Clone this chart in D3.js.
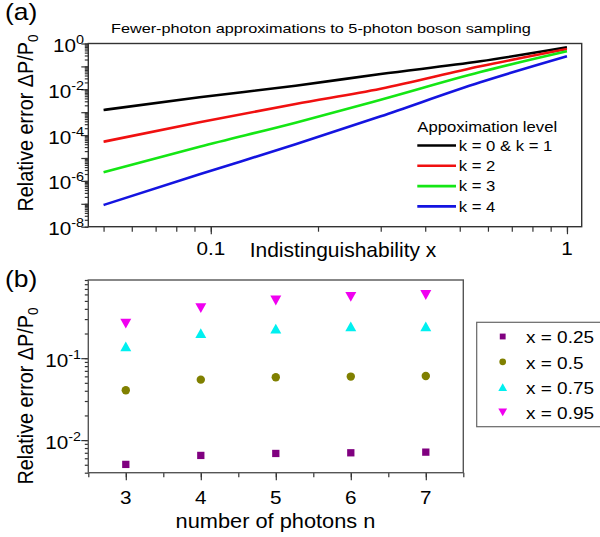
<!DOCTYPE html>
<html>
<head>
<meta charset="utf-8">
<script src="https://cdn.jsdelivr.net/npm/d3@7"></script>
<style>
body{margin:0;background:#fff}
svg{display:block;font-family:"Liberation Sans",Arial,sans-serif}
</style>
</head>
<body>
<svg id="chart"></svg>
<script>
// panel (a): relative error against indistinguishability x, one curve per level
var curveX = [0.05, 0.093, 0.173, 0.3, 0.571, 1];
var errK01 = [1.25e-3, 4.47e-3, 0.0144, 0.0466, 0.167, 0.682];
var errK2  = [5.15e-5, 3.62e-4, 2.28e-3, 0.0106, 0.101, 0.575];
var errK3  = [2.38e-6, 3.11e-5, 3.48e-4, 3.51e-3, 0.0569, 0.456];
var errK4  = [8.87e-8, 1.94e-6, 3.96e-5, 6.62e-4, 0.0202, 0.276];
var levelNames = ["k = 0 & k = 1", "k = 2", "k = 3", "k = 4"];
var levelColors = ["#000000", "#f01010", "#14e614", "#1414e0"];
var aYTicks = [1, 1e-2, 1e-4, 1e-6, 1e-8];
var aXTicks = [0.1, 1];

// panel (b): relative error against number of photons n
var photons = [3, 4, 5, 6, 7];
var err025 = [0.00505, 0.0065, 0.00687, 0.0070, 0.00713];
var err05  = [0.0406, 0.0547, 0.0585, 0.0596, 0.0607];
var err075 = [0.139, 0.202, 0.229, 0.244, 0.244];
var err095 = [0.264, 0.409, 0.506, 0.56, 0.59];
var xNames = ["x = 0.25", "x = 0.5", "x = 0.75", "x = 0.95"];
var xColors = ["#800080", "#808000", "#00f0f0", "#f000f0"];
var bYTicks = [0.1, 0.01];

var SX = 1.15; // horizontal stretch of the original lettering

var svg = d3.select("#chart").attr("width", 600).attr("height", 537);

// horizontal text, stretched
var hText = function(x, y, anchor, size, str, sx)
{
    return svg.append("text")
        .attr("transform", "translate(" + x + "," + y + ") scale(" + (sx || SX) + ",1)")
        .attr("text-anchor", anchor)
        .attr("font-size", size)
        .text(str);
}

// "10^e" tick label
var powLabel = function(x, y, v)
{
    var e = Math.round(Math.log10(v));
    var t = svg.append("text")
        .attr("transform", "translate(" + x + "," + y + ") scale(" + SX + ",1)")
        .attr("text-anchor", "end")
        .attr("font-size", 18);
    t.append("tspan").text("10");
    t.append("tspan").attr("font-size", 12.5).attr("dy", -8).text(e);
}

// rotated axis title with subscript 0
var yTitle = function(x, y)
{
    var t = svg.append("text")
        .attr("transform", "translate(" + x + "," + y + ") scale(" + SX + ",1) rotate(-90)")
        .attr("text-anchor", "middle")
        .attr("font-size", 19.8);
    t.append("tspan").text("Relative error \u0394P/P");
    t.append("tspan").attr("font-size", 13.5).attr("dy", 5).text("0");
}

// minor ticks of a log axis
var logMinors = function(lo, hi)
{
    var out = [];
    for (var e = Math.floor(Math.log10(lo)); e <= Math.ceil(Math.log10(hi)); e++)
        for (var m = 1; m <= 9; m++)
        {
            var v = m * Math.pow(10, e);
            if (v >= lo * 0.999 && v <= hi * 1.001) out.push(v);
        }
    return out;
}

var styleAxis = function(g)
{
    g.select(".domain").remove();
    g.selectAll("line").attr("stroke", "#333").attr("stroke-width", 1.2);
}

/* ---------------- panel (a) ---------------- */
var aBox = {left: 88.3, right: 581.7, top: 43.5, bottom: 226.7};
var xA = d3.scaleLog().domain([0.0453, 1.1]).range([aBox.left, aBox.right]);
var yA = d3.scaleLog().domain([1e-8, 1]).range([aBox.bottom, aBox.top]);

svg.append("g").attr("transform", "translate(" + aBox.left + ",0)")
    .call(d3.axisLeft(yA).tickValues(logMinors(1e-8, 1)).tickSize(3.5).tickFormat(""))
    .call(styleAxis);
svg.append("g").attr("transform", "translate(" + aBox.left + ",0)")
    .call(d3.axisLeft(yA).tickValues(logMinors(1e-8, 1).filter(function(v){ return Math.abs(Math.log10(v) % 1) < 1e-6; })).tickSize(7).tickFormat(""))
    .call(styleAxis);
svg.append("g").attr("transform", "translate(0," + aBox.bottom + ")")
    .call(d3.axisBottom(xA).tickValues(logMinors(0.05, 1)).tickSize(5).tickFormat(""))
    .call(styleAxis);
svg.append("g").attr("transform", "translate(0," + aBox.bottom + ")")
    .call(d3.axisBottom(xA).tickValues(aXTicks).tickSize(7.5).tickFormat(""))
    .call(styleAxis);

svg.append("rect")
    .attr("x", aBox.left).attr("y", aBox.top)
    .attr("width", aBox.right - aBox.left).attr("height", aBox.bottom - aBox.top)
    .attr("fill", "none").attr("stroke", "#333").attr("stroke-width", 1.4);

aYTicks.forEach(function(v){ powLabel(84, yA(v) + 8.5, v); });
aXTicks.forEach(function(v){ hText(xA(v), 255, "middle", 18, d3.format("")(v)); });

var aSeries = [errK01, errK2, errK3, errK4];
var lineA = d3.line()
    .x(function(d, i){ return xA(curveX[i]); })
    .y(function(d){ return yA(d); })
    .curve(d3.curveMonotoneX);

svg.append("g").selectAll("path")
    .data(aSeries).enter().append("path")
    .attr("d", lineA)
    .attr("fill", "none")
    .attr("stroke", function(d, i){ return levelColors[i]; })
    .attr("stroke-width", 2.6);

hText(111, 33, "start", 13, "Fewer-photon approximations to 5-photon boson sampling", 1.25);
hText(5, 20, "start", 23, "(a)");
hText(343, 256.5, "middle", 20, "Indistinguishability x", 1.05);
yTitle(32.5, 123);

// legend (a)
hText(417.3, 131.7, "start", 14.5, "Appoximation level");
var legA = svg.append("g").selectAll("g")
    .data(levelNames).enter().append("g")
    .attr("transform", function(d, i){ return "translate(417.3," + (145.5 + i * 20.3) + ")"; });
legA.append("line")
    .attr("x1", 0).attr("x2", 38.7)
    .attr("stroke", function(d, i){ return levelColors[i]; })
    .attr("stroke-width", 2.6);
legA.append("text")
    .attr("transform", "translate(41.5,5.3) scale(" + SX + ",1)")
    .attr("font-size", 14.5)
    .text(function(d){ return d; });

/* ---------------- panel (b) ---------------- */
var bBox = {left: 88.3, right: 463.3, top: 280, bottom: 472.7};
var xB = d3.scaleLinear().domain([2.5, 7.5]).range([bBox.left, bBox.right]);
var yB = d3.scaleLog().domain([0.004, 0.9]).range([bBox.bottom, bBox.top]);

svg.append("g").attr("transform", "translate(" + bBox.left + ",0)")
    .call(d3.axisLeft(yB).tickValues(logMinors(0.004, 0.9)).tickSize(3.5).tickFormat(""))
    .call(styleAxis);
svg.append("g").attr("transform", "translate(" + bBox.left + ",0)")
    .call(d3.axisLeft(yB).tickValues(bYTicks).tickSize(7).tickFormat(""))
    .call(styleAxis);
svg.append("g").attr("transform", "translate(0," + bBox.bottom + ")")
    .call(d3.axisBottom(xB).tickValues(d3.range(2.5, 7.51, 0.5)).tickSize(4.5).tickFormat(""))
    .call(styleAxis);
svg.append("g").attr("transform", "translate(0," + bBox.bottom + ")")
    .call(d3.axisBottom(xB).tickValues(photons).tickSize(7.5).tickFormat(""))
    .call(styleAxis);

svg.append("rect")
    .attr("x", bBox.left).attr("y", bBox.top)
    .attr("width", bBox.right - bBox.left).attr("height", bBox.bottom - bBox.top)
    .attr("fill", "none").attr("stroke", "#555").attr("stroke-width", 1.4);

bYTicks.forEach(function(v){ powLabel(81, yB(v) + 8.5, v); });
photons.forEach(function(v){ hText(xB(v), 503.5, "middle", 18, v); });

hText(5, 287, "start", 23, "(b)");
hText(275.5, 528, "middle", 20, "number of photons n", 1.09);
yTitle(32.5, 396);

// marker shapes: square, circle, up and down triangles
var marker = function(kind, s)
{
    if (kind == 0) return "M" + (-s/2) + "," + (-s/2) + "h" + s + "v" + s + "h" + (-s) + "Z";
    if (kind == 1) return "M" + (s/2) + ",0A" + (s/2) + "," + (s/2) + " 0 1,1 " + (-s/2) + ",0A" + (s/2) + "," + (s/2) + " 0 1,1 " + (s/2) + ",0Z";
    var w = s * 1.12, h = s;
    if (kind == 2) return "M0," + (-h/2) + "L" + (w/2) + "," + (h/2) + "L" + (-w/2) + "," + (h/2) + "Z";
    return "M0," + (h/2) + "L" + (w/2) + "," + (-h/2) + "L" + (-w/2) + "," + (-h/2) + "Z";
}
var markerSize = [7.3, 8.4, 9.8, 9.8];

var bSeries = [err025, err05, err075, err095];
bSeries.forEach(function(series, k)
{
    svg.append("g").selectAll("path")
        .data(series).enter().append("path")
        .attr("transform", function(d, i){ return "translate(" + xB(photons[i]) + "," + yB(d) + ")"; })
        .attr("d", marker(k, markerSize[k]))
        .attr("fill", xColors[k]);
});

// legend (b)
svg.append("rect")
    .attr("x", 476.7).attr("y", 322.3)
    .attr("width", 140).attr("height", 104.4)
    .attr("fill", "none").attr("stroke", "#666").attr("stroke-width", 1.2);
var legB = svg.append("g").selectAll("g")
    .data(xNames).enter().append("g")
    .attr("transform", function(d, i){ return "translate(502.7," + (336.5 + i * 25.3) + ")"; });
legB.append("path")
    .attr("d", function(d, i){ return marker(i, markerSize[i] * 0.8); })
    .attr("fill", function(d, i){ return xColors[i]; });
legB.append("text")
    .attr("transform", "translate(23.3,6.8) scale(" + SX + ",1)")
    .attr("font-size", 16.5)
    .text(function(d){ return d; });
</script>
</body>
</html>
